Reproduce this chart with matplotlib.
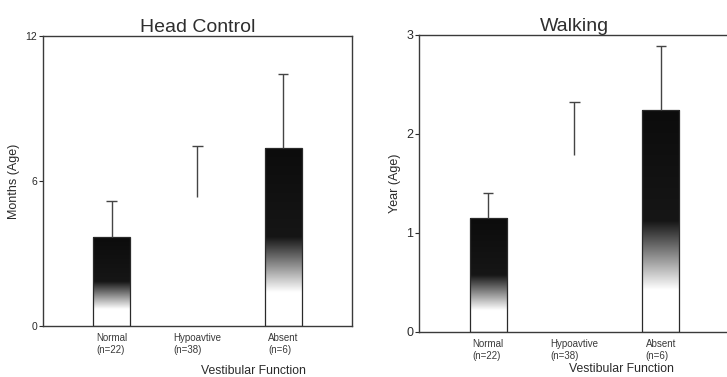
import numpy as np
import matplotlib
matplotlib.use('Agg')
import matplotlib.pyplot as plt
from matplotlib.colors import LinearSegmentedColormap

plt.rcParams['font.family'] = ['Liberation Sans', 'DejaVu Sans']

# groups on the x axis
groups = ['Normal\n(n=22)', 'Hypoavtive\n(n=38)', 'Absent\n(n=6)']
shown = [True, False, True]  # hypoactive bar is not printed, only its error bar

# head control, months
head_mean = [3.68, 5.34, 7.36]
head_err = [1.49, 2.11, 3.07]

# walking, years
walk_mean = [1.15, 1.79, 2.24]
walk_err = [0.25, 0.53, 0.65]

ink = '#2a2a2a'
# white at the bottom of the bar, going dark higher up
shade = LinearSegmentedColormap.from_list('shade', [(0, 'white'), (0.19, 'white'), (0.5, '#161616'), (1, '#0c0c0c')])
grad = np.linspace(0, 1, 256).reshape(-1, 1)


def panel(ax, means, errs, title, ylab, ymax, yticks, ytick_size):
    x = np.arange(len(groups))
    means = np.array(means)
    errs = np.array(errs)
    bars = ax.bar(x, means, width=0.43, color='none',
                  edgecolor=[ink if s else 'none' for s in shown], linewidth=0.9, zorder=3)
    for b, s in zip(bars, shown):
        if not s:
            continue
        x0 = b.get_x()
        im = ax.imshow(grad, cmap=shade, aspect='auto', origin='lower',
                       extent=(x0, x0 + b.get_width(), 0, b.get_height()), zorder=2)
        im.set_clip_path(b)
    # upper error bars only, cap at the top
    ax.vlines(x, means, means + errs, color='#444444', linewidth=1.0, zorder=4)
    ax.hlines(means + errs, x - 0.06, x + 0.06, color='#444444', linewidth=1.0, zorder=4)
    ax.set_xlim(-0.8, 2.8)
    ax.set_ylim(0, ymax)
    ax.set_yticks(yticks)
    ax.set_xticks(x)
    ax.set_xticklabels(groups, fontsize=7, color='#3a3a3a', multialignment='left')
    ax.tick_params(axis='x', length=0, pad=5)
    ax.tick_params(axis='y', length=3, width=0.8, labelsize=ytick_size, colors=ink, pad=1)
    ax.set_title(title, fontsize=14, color='#2e2e2e', pad=3)
    ax.set_ylabel(ylab, fontsize=9, color=ink, labelpad=4)
    for sp in ax.spines.values():
        sp.set_color('#3a3a3a')
        sp.set_linewidth(1.0)


fig = plt.figure(figsize=(7.27, 3.77), dpi=100)
ax1 = fig.add_axes([0.0591, 0.1353, 0.425, 0.769])
ax2 = fig.add_axes([0.5763, 0.1194, 0.4278, 0.788])

panel(ax1, head_mean, head_err, 'Head Control', 'Months (Age)', 12, [0, 6, 12], 7.5)
panel(ax2, walk_mean, walk_err, 'Walking', 'Year (Age)', 3, [0, 1, 2, 3], 9)

ax1.set_xlabel('Vestibular Function', fontsize=8.8, color=ink)
ax1.xaxis.set_label_coords(0.68, -0.135)
ax2.set_xlabel('Vestibular Function', fontsize=8.8, color=ink)
ax2.xaxis.set_label_coords(0.65, -0.105)

fig.savefig('out.png', dpi=100, facecolor='white')
